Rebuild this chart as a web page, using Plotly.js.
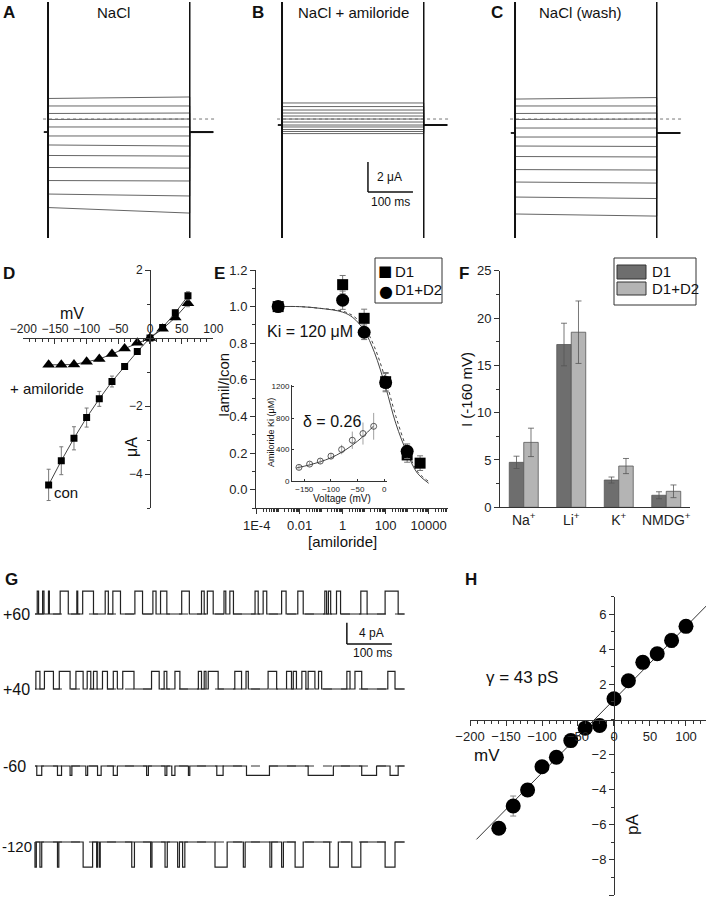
<!DOCTYPE html>
<html>
<head>
<meta charset="utf-8">
<script src="https://cdn.plot.ly/plotly-3.0.1.min.js"></script>
<style>
  html, body { margin: 0; padding: 0; background: #fff; }
  #fig { width: 706px; height: 899px; }
</style>
</head>
<body>
<div id="fig"></div>
<script>
const W = 706, H = 899;

// ---- A-C: two-electrode current families (uA vs ms), 0 = dotted zero-current line
const pulseMs = [0, 315];
const holdFrom = -9, holdTo = 367;
const aStart = [1.37, 0.87, 0.37, -0.03, -0.53, -1.13, -1.73, -2.43, -3.23, -4.1, -5.0, -5.9];
const aEnd = [1.47, 0.87, 0.4, 0, -0.53, -1.13, -1.8, -2.47, -3.27, -4.13, -5.13, -6.27];
const aHold = -0.87;
const bStart = [1.07, 0.83, 0.6, 0.4, 0.2, 0, -0.2, -0.37, -0.53, -0.7, -0.83, -0.97];
const bEnd = [1.07, 0.83, 0.6, 0.4, 0.2, 0, -0.2, -0.37, -0.53, -0.7, -0.83, -0.97];
const bHold = -0.4;
const cStart = [1.33, 0.87, 0.37, -0.03, -0.6, -1.2, -1.8, -2.5, -3.37, -4.2, -5.2, -6.33];
const cEnd = [1.43, 0.87, 0.4, 0, -0.6, -1.2, -1.83, -2.53, -3.4, -4.27, -5.3, -6.47];
const cHold = -0.93;

// ---- D: I-V, oocyte (uA)
const ivV = [-160, -140, -120, -100, -80, -60, -40, -20, 0, 20, 40, 60];
const ivCon = [-4.32, -3.61, -2.95, -2.34, -1.79, -1.28, -0.84, -0.40, 0.0, 0.31, 0.74, 1.24];
const ivConErr = [0.46, 0.41, 0.34, 0.28, 0.22, 0.16, 0.08, 0.05, 0.03, 0.05, 0.08, 0.12];
const ivAmil = [-0.79, -0.79, -0.78, -0.70, -0.62, -0.47, -0.31, -0.14, 0.0, 0.27, 0.6, 1.02];
const ivAmilErr = [0.05, 0.05, 0.05, 0.05, 0.05, 0.05, 0.05, 0.05, 0.03, 0.05, 0.06, 0.1];

// ---- E: amiloride dose response
const d1Conc = [0.001, 1, 10, 100, 1000, 4000];
const d1Frac = [1.0, 1.12, 0.936, 0.59, 0.19, 0.145];
const d1Err = [0.02, 0.05, 0.05, 0.05, 0.04, 0.04];
const d12Conc = [0.001, 1, 10, 100, 1000];
const d12Frac = [1.0, 1.035, 0.86, 0.585, 0.21];
const d12Err = [0.02, 0.05, 0.04, 0.05, 0.04];
const fitConc = [0.001, 0.01, 0.1, 1, 3, 10, 30, 100, 300, 1000, 3000, 10000];
const fitSolid = [1.0, 1.0, 0.99, 0.97, 0.94, 0.87, 0.75, 0.56, 0.36, 0.2, 0.09, 0.035];
const fitDotted = [1.0, 1.0, 0.99, 0.975, 0.95, 0.89, 0.78, 0.6, 0.4, 0.22, 0.1, 0.045];
// inset: Ki vs voltage
const kiV = [-160, -140, -120, -100, -80, -60, -40, -20];
const kiVal = [173, 215, 253, 316, 400, 518, 603, 695];
const kiErr = [30, 30, 35, 40, 60, 110, 140, 170];
const kiFitV = [-165, -140, -120, -100, -80, -60, -40, -20];
const kiFit = [165, 205, 245, 295, 365, 455, 565, 700];

// ---- F: ion selectivity at -160 mV
const ions = ['Na<sup>+</sup>', 'Li<sup>+</sup>', 'K<sup>+</sup>', 'NMDG<sup>+</sup>'];
const fD1 = [4.75, 17.2, 2.88, 1.27];
const fD1Err = [0.65, 2.25, 0.32, 0.37];
const fD12 = [6.86, 18.5, 4.36, 1.69];
const fD12Err = [1.5, 3.3, 0.8, 0.67];

// ---- G: single channel records, openings [start, end] in ms
const gEnd = 822;
const g60Open = [[5,8],[17,20],[30,32],[56,74],[93,95],[106,130],[156,163],[173,190],[222,239],[262,269],
  [279,293],[326,343],[370,376],[383,396],[420,424],[433,441],[489,496],[507,515],[548,558],[584,596],
  [644,648],[652,657],[670,679],[724,738],[778,807]];
const g40Open = [[2,11],[21,41],[54,78],[91,107],[116,124],[130,138],[150,161],[174,183],[195,220],[259,276],
  [287,293],[311,322],[363,370],[376,380],[385,407],[444,459],[469,474],[518,537],[559,570],[574,581],
  [593,602],[607,622],[630,637],[693,700],[711,726],[784,800]];
const gM60Open = [[4,15],[50,59],[78,82],[113,117],[139,147],[174,183],[248,252],[289,293],[304,311],[341,344],
  [404,418],[470,521],[607,663],[726,759],[789,807]];
const gM120Open = [[0,3],[11,15],[50,53],[107,128],[137,139],[143,145],[215,221],[257,260],[289,294],[317,321],
  [328,333],[400,427],[463,467],[522,526],[548,552],[578,596],[655,674],[704,724],[778,800]];
const gAmp = [4.3, 3.3, -1.75, -4.7];

// ---- H: single channel I-V (pA)
const hV = [-160, -140, -120, -100, -80, -60, -40, -20, 0, 20, 40, 60, 80, 100];
const hI = [-6.2, -4.93, -4.02, -2.69, -2.15, -1.2, -0.49, -0.34, 1.18, 2.21, 3.26, 3.75, 4.51, 5.31];
const hErr = [0.2, 0.57, 0.15, 0.2, 0.15, 0.1, 0.1, 0.1, 0.1, 0.1, 0.15, 0.25, 0.4, 0.15];
const hFitV = [-191, 130];
const hFitI = [-6.83, 6.55];

// ---------- helpers
const FONT = 'Liberation Sans, Arial, sans-serif';
const xd = (a, b) => [a / W, b / W];
const yd = (top, bot) => [1 - bot / H, 1 - top / H];
const px = x => x / W;
const py = y => 1 - y / H;

function note(text, x, y, size, opt) {
  return Object.assign({
    text: text, x: px(x), y: py(y), xref: 'paper', yref: 'paper', showarrow: false,
    font: { size: size, color: '#111', family: FONT }, xanchor: 'center', yanchor: 'middle'
  }, opt || {});
}
function box(x0, y0, x1, y1, fill) {
  return { type: 'rect', xref: 'paper', yref: 'paper', x0: px(x0), x1: px(x1), y0: py(y1), y1: py(y0),
    line: { color: '#333', width: 1 }, fillcolor: fill || 'rgba(0,0,0,0)' };
}
function hidden(domain, range, anchor) {
  return { domain: domain, range: range, anchor: anchor, visible: false, showgrid: false, zeroline: false, fixedrange: true };
}
const axBase = {
  showgrid: false, zeroline: false, showline: true, linecolor: '#333', linewidth: 1,
  ticks: 'outside', tickcolor: '#333', ticklen: 5, tickfont: { size: 12, color: '#222', family: FONT }, fixedrange: true
};
function ax(extra) { return Object.assign({}, axBase, extra); }

const traces = [];

function family(xa, ya, starts, ends, hold) {
  traces.push({ x: [-11, 369], y: [0, 0], xaxis: xa, yaxis: ya, mode: 'lines',
    line: { color: '#777', width: 1, dash: 'dot' }, showlegend: false, hoverinfo: 'skip' });
  starts.forEach((s, i) => {
    traces.push({
      x: [holdFrom, pulseMs[0], pulseMs[0], pulseMs[1], pulseMs[1], holdTo],
      y: [hold, hold, s, ends[i], hold, hold],
      xaxis: xa, yaxis: ya, mode: 'lines', line: { color: '#666', width: 1 },
      showlegend: false, hoverinfo: 'skip'
    });
  });
  traces.push({ x: [pulseMs[1], holdTo], y: [hold, hold], xaxis: xa, yaxis: ya, mode: 'lines',
    line: { color: '#111', width: 2 }, showlegend: false, hoverinfo: 'skip' });
  traces.push({ x: [holdFrom, pulseMs[0]], y: [hold, hold], xaxis: xa, yaxis: ya, mode: 'lines',
    line: { color: '#111', width: 1.5 }, showlegend: false, hoverinfo: 'skip' });
  pulseMs.forEach((t, k) => {
    traces.push({ x: [t, t], y: [-20, 20], xaxis: xa, yaxis: ya, mode: 'lines',
      line: { color: '#111', width: k === 0 ? 2 : 1.5 }, showlegend: false, hoverinfo: 'skip' });
  });
}
family('x', 'y', aStart, aEnd, aHold);
family('x2', 'y2', bStart, bEnd, bHold);
family('x3', 'y3', cStart, cEnd, cHold);

// D
traces.push({ x: ivV, y: ivAmil, xaxis: 'x4', yaxis: 'y4', mode: 'lines+markers',
  line: { color: '#444', width: 1 }, marker: { symbol: 'triangle-up', size: 11, color: '#000' },
  error_y: { type: 'data', array: ivAmilErr, color: '#777', thickness: 1, width: 2 }, showlegend: false });
traces.push({ x: ivV, y: ivCon, xaxis: 'x4', yaxis: 'y4', mode: 'lines+markers',
  line: { color: '#444', width: 1 }, marker: { symbol: 'square', size: 7, color: '#000' },
  error_y: { type: 'data', array: ivConErr, color: '#777', thickness: 1, width: 2 }, showlegend: false });

// E
traces.push({ x: fitConc, y: fitDotted, xaxis: 'x5', yaxis: 'y5', mode: 'lines', line: { color: '#444', width: 1, dash: 'dot', shape: 'spline' }, showlegend: false });
traces.push({ x: fitConc, y: fitSolid, xaxis: 'x5', yaxis: 'y5', mode: 'lines', line: { color: '#444', width: 1, shape: 'spline' }, showlegend: false });
traces.push({ x: d1Conc, y: d1Frac, xaxis: 'x5', yaxis: 'y5', mode: 'markers', name: 'D1', showlegend: false,
  marker: { symbol: 'square', size: 11, color: '#000' },
  error_y: { type: 'data', array: d1Err, color: '#777', thickness: 1, width: 3 } });
traces.push({ x: d12Conc, y: d12Frac, xaxis: 'x5', yaxis: 'y5', mode: 'markers', name: 'D1+D2', showlegend: false,
  marker: { symbol: 'circle', size: 13, color: '#000' },
  error_y: { type: 'data', array: d12Err, color: '#777', thickness: 1, width: 3 } });
traces.push({ x: kiFitV, y: kiFit, xaxis: 'x6', yaxis: 'y6', mode: 'lines', line: { color: '#444', width: 1, shape: 'spline' }, showlegend: false });
traces.push({ x: kiV, y: kiVal, xaxis: 'x6', yaxis: 'y6', mode: 'markers',
  marker: { symbol: 'circle-open', size: 6, color: '#333', line: { width: 0.8 } },
  error_y: { type: 'data', array: kiErr, color: '#888', thickness: 0.8, width: 0 }, showlegend: false });

// F
traces.push({ type: 'bar', x: ions, y: fD1, xaxis: 'x7', yaxis: 'y7', name: 'D1', showlegend: false,
  marker: { color: '#6e6e6e', line: { color: '#555', width: 0.8 } },
  error_y: { type: 'data', array: fD1Err, color: '#555', thickness: 0.8, width: 3 } });
traces.push({ type: 'bar', x: ions, y: fD12, xaxis: 'x7', yaxis: 'y7', name: 'D1+D2', showlegend: false,
  marker: { color: '#b4b4b4', line: { color: '#555', width: 0.8 } },
  error_y: { type: 'data', array: fD12Err, color: '#555', thickness: 0.8, width: 3 } });

// G
[g60Open, g40Open, gM60Open, gM120Open].forEach((ev, i) => {
  const xa = 'x' + (8 + i), ya = 'y' + (8 + i);
  traces.push({ x: [0, gEnd], y: [0, 0], xaxis: xa, yaxis: ya, mode: 'lines',
    line: { color: '#333', width: 1, dash: 'dash' }, showlegend: false, hoverinfo: 'skip' });
  const xs = [0], ys = [0];
  ev.forEach(([a, b]) => { xs.push(a, a, b, b); ys.push(0, gAmp[i], gAmp[i], 0); });
  xs.push(gEnd); ys.push(0);
  traces.push({ x: xs, y: ys, xaxis: xa, yaxis: ya, mode: 'lines',
    line: { color: '#222', width: 1.2 }, showlegend: false, hoverinfo: 'skip' });
});

// H
traces.push({ x: hFitV, y: hFitI, xaxis: 'x12', yaxis: 'y12', mode: 'lines', line: { color: '#333', width: 1 }, showlegend: false });
traces.push({ x: hV, y: hI, xaxis: 'x12', yaxis: 'y12', mode: 'markers',
  marker: { symbol: 'circle', size: 15, color: '#000' },
  error_y: { type: 'data', array: hErr, color: '#888', thickness: 1, width: 3 }, showlegend: false });

// ---------- layout
const famRangeX = [-17.8, 382.2], famRangeY = [-7.93, 7.8];
const gRangeX = [-4.4, 833.3];
const minorLog = [];
for (let e = -4; e <= 4; e++) for (let m = 2; m <= 9; m++) minorLog.push(m * Math.pow(10, e));
for (let e = -3; e <= 3; e += 2) minorLog.push(Math.pow(10, e));
const symFont = { family: 'DejaVu Sans, sans-serif', color: '#000' };

const layout = {
  width: W, height: H, margin: { l: 0, r: 0, t: 0, b: 0 },
  paper_bgcolor: '#fff', plot_bgcolor: 'rgba(0,0,0,0)',
  font: { family: FONT, color: '#111' }, showlegend: false,
  barmode: 'group', bargap: 0.39, bargroupgap: 0,
  xaxis: hidden(xd(40, 220), famRangeX, 'y'),
  yaxis: hidden(yd(2, 238), famRangeY, 'x'),
  xaxis2: hidden(xd(274, 454), famRangeX, 'y2'),
  yaxis2: hidden(yd(2, 238), famRangeY, 'x2'),
  xaxis3: hidden(xd(507, 687), famRangeX, 'y3'),
  yaxis3: hidden(yd(2, 238), famRangeY, 'x3'),
  xaxis4: ax({ domain: xd(23.3, 213.3), range: [-200, 100], anchor: 'free', position: py(338), side: 'top',
    tickmode: 'linear', tick0: 0, dtick: 50, ticks: 'inside', ticklen: 5,
    minor: { tickmode: 'linear', tick0: 0, dtick: 10, ticks: 'inside', ticklen: 3, tickcolor: '#333' } }),
  yaxis4: ax({ domain: yd(270, 508), range: [-5, 2], anchor: 'free', position: px(150), side: 'left',
    tickmode: 'array', tickvals: [-4, -2, 2],
    minor: { tickmode: 'linear', tick0: 0, dtick: 1, ticks: 'outside', ticklen: 3, tickcolor: '#333' } }),
  xaxis5: ax({ type: 'log', domain: xd(256, 448), range: [-4.03, 4.9], anchor: 'y5',
    tickmode: 'array', tickvals: [1e-4, 1e-2, 1, 100, 1e4], ticktext: ['1E-4', '0.01', '1', '100', '10000'],
    tickfont: { size: 13, color: '#222', family: FONT },
    minor: { tickmode: 'array', tickvals: minorLog, ticks: 'outside', ticklen: 3, tickcolor: '#333' } }),
  yaxis5: ax({ domain: yd(270, 508), range: [-0.1, 1.2], anchor: 'x5', tickmode: 'array',
    tickvals: [0, 0.2, 0.4, 0.6, 0.8, 1.0, 1.2],
    ticktext: ['0.0', '0.2', '0.4', '0.6', '0.8', '1.0', '1.2'], tickfont: { size: 13, color: '#222', family: FONT },
    minor: { tickmode: 'linear', tick0: 0, dtick: 0.1, ticks: 'outside', ticklen: 3, tickcolor: '#333' } }),
  xaxis6: ax({ domain: xd(292, 387), range: [-173, 5], anchor: 'y6', tickmode: 'array', tickvals: [-150, -100, -50, 0],
    ticks: 'inside', ticklen: 2, tickfont: { size: 8, color: '#222', family: FONT } }),
  yaxis6: ax({ domain: yd(385, 481), range: [0, 1220], anchor: 'x6', tickmode: 'array', tickvals: [0, 400, 800, 1200],
    ticks: 'inside', ticklen: 2, tickfont: { size: 8, color: '#222', family: FONT } }),
  xaxis7: ax({ domain: xd(500, 690), range: [-0.5, 3.5], anchor: 'y7', type: 'category', ticks: '',
    tickfont: { size: 14, color: '#222', family: FONT } }),
  yaxis7: ax({ domain: yd(270.7, 507.3), range: [0, 25], anchor: 'x7', tickmode: 'array', tickvals: [0, 5, 10, 15, 20, 25],
    tickfont: { size: 13, color: '#222', family: FONT },
    minor: { tickmode: 'linear', tick0: 0, dtick: 2.5, ticks: 'outside', ticklen: 3, tickcolor: '#333' } }),
  xaxis8: hidden(xd(33, 410), gRangeX, 'y8'),
  yaxis8: hidden(yd(580, 650), [-6.75, 6.375], 'x8'),
  xaxis9: hidden(xd(33, 410), gRangeX, 'y9'),
  yaxis9: hidden(yd(659, 719), [-5.63, 5.63], 'x9'),
  xaxis10: hidden(xd(33, 410), gRangeX, 'y10'),
  yaxis10: hidden(yd(736, 796), [-5.63, 5.63], 'x10'),
  xaxis11: hidden(xd(33, 410), gRangeX, 'y11'),
  yaxis11: hidden(yd(812, 872), [-5.63, 5.63], 'x11'),
  xaxis12: ax({ domain: xd(470, 706), range: [-200, 127.8], anchor: 'free', position: py(719.7),
    tickmode: 'array', tickvals: [-200, -150, -100, -50, 0, 50, 100], tickfont: { size: 13, color: '#222', family: FONT },
    minor: { tickmode: 'linear', tick0: 0, dtick: 10, ticks: 'outside', ticklen: 3, tickcolor: '#333' } }),
  yaxis12: ax({ domain: yd(596.7, 895), range: [-10, 7], anchor: 'free', position: px(614),
    tickmode: 'array', tickvals: [-10, -8, -6, -4, -2, 2, 4, 6], tickfont: { size: 13, color: '#222', family: FONT },
    minor: { tickmode: 'linear', tick0: 0, dtick: 1, ticks: 'outside', ticklen: 3, tickcolor: '#333' } }),
  shapes: [
    // B scale bar: 2 uA, 100 ms
    { type: 'line', xref: 'x2', yref: 'y2', x0: 191, x1: 191, y0: -2.87, y1: -4.87, line: { color: '#111', width: 1.5 } },
    { type: 'line', xref: 'x2', yref: 'y2', x0: 191, x1: 291, y0: -4.87, y1: -4.87, line: { color: '#111', width: 1.5 } },
    // G scale bar: 4 pA, 100 ms
    { type: 'line', xref: 'x8', yref: 'y8', x0: 693, x1: 693, y0: -1.63, y1: -5.63, line: { color: '#111', width: 1.5 } },
    { type: 'line', xref: 'x8', yref: 'y8', x0: 693, x1: 793, y0: -5.63, y1: -5.63, line: { color: '#111', width: 1.5 } },
    // legend boxes (E, F)
    box(375, 258, 442, 303),
    box(614, 258, 696, 305),
    box(617, 265, 646, 279, '#6e6e6e'),
    box(617, 282, 646, 295, '#b4b4b4')
  ],
  annotations: [
    note('<b>A</b>', 1, 1, 17, { xanchor: 'left', yanchor: 'top' }),
    note('<b>B</b>', 250, 1, 17, { xanchor: 'left', yanchor: 'top' }),
    note('<b>C</b>', 489, 1, 17, { xanchor: 'left', yanchor: 'top' }),
    note('<b>D</b>', 1, 262, 17, { xanchor: 'left', yanchor: 'top' }),
    note('<b>E</b>', 212, 262, 17, { xanchor: 'left', yanchor: 'top' }),
    note('<b>F</b>', 457, 262, 17, { xanchor: 'left', yanchor: 'top' }),
    note('<b>G</b>', 3, 568, 17, { xanchor: 'left', yanchor: 'top' }),
    note('<b>H</b>', 463, 568, 17, { xanchor: 'left', yanchor: 'top' }),
    note('NaCl', 113, 12, 15),
    note('NaCl + amiloride', 353, 12, 15),
    note('NaCl (wash)', 580, 12, 15),
    note('2 \u03bcA', 389, 177, 12),
    note('100 ms', 390, 202, 12),
    note('mV', 72, 313, 16),
    note('\u03bcA', 132, 447, 16, { textangle: -90 }),
    note('+ amiloride', 47, 388, 15),
    note('con', 66, 492, 15),
    note('Iamil/Icon', 223, 385, 15, { textangle: -90 }),
    note('Ki = 120 \u03bcM', 310, 331, 16),
    note('[amiloride]', 342, 541, 15),
    note('\u03b4 = 0.26', 332, 422, 16),
    note('Voltage (mV)', 342, 498, 10),
    note('Amiloride Ki (\u03bcM)', 271, 433, 9, { textangle: -90 }),
    note('I (-160 mV)', 467, 390, 15, { textangle: -90 }),
    // legend E
    note('\u25a0', 385, 271, 15, { font: Object.assign({ size: 15 }, symFont) }),
    note('\u25cf', 386, 291, 16, { font: Object.assign({ size: 16 }, symFont) }),
    note('D1', 393, 271, 15, { xanchor: 'left' }),
    note('D1+D2', 393, 290, 15, { xanchor: 'left' }),
    // legend F
    note('D1', 650, 272, 15, { xanchor: 'left' }),
    note('D1+D2', 650, 288, 15, { xanchor: 'left' }),
    note('+60', 1, 614, 16, { xanchor: 'left' }),
    note('+40', 1, 689, 16, { xanchor: 'left' }),
    note('-60', 1, 766, 16, { xanchor: 'left' }),
    note('-120', 0, 846, 15, { xanchor: 'left' }),
    note('4 pA', 357, 633, 12, { xanchor: 'left' }),
    note('100 ms', 373, 653, 12),
    note('\u03b3 = 43 pS', 522, 677, 17),
    note('mV', 487, 755, 17),
    note('pA', 632, 825, 17, { textangle: -90 })
  ]
};

Plotly.newPlot('fig', traces, layout, { staticPlot: true, displayModeBar: false });
</script>
</body>
</html>
